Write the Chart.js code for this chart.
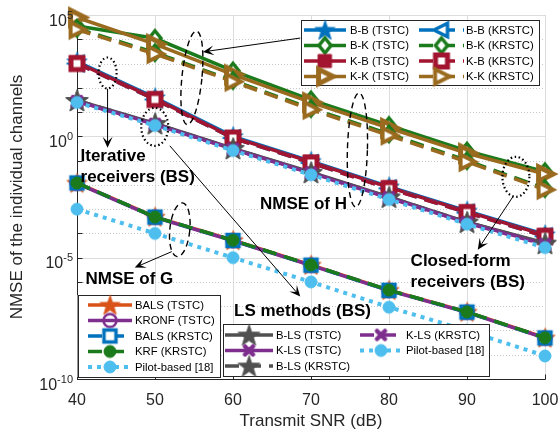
<!DOCTYPE html>
<html lang="en">
<head>
<meta charset="UTF-8">
<title>NMSE vs Transmit SNR</title>
<script src="https://cdn.jsdelivr.net/npm/chart.js"></script>
<style>
  html, body { margin: 0; padding: 0; background: #fff; }
  #wrap { width: 560px; height: 434px; position: relative; }
</style>
</head>
<body>
<div id="wrap"><canvas id="nmse"></canvas></div>
<script>
// ---- data ----
const snr = [40, 50, 60, 70, 80, 90, 100];

// NMSE of G
const balsTstcG  = [1.2e-2, 4.8e-4, 5.2e-5, 5.0e-6, 4.6e-7, 5.8e-8, 5.0e-9];
const kronfTstcG = [1.15e-2, 4.6e-4, 5.0e-5, 4.8e-6, 4.4e-7, 5.6e-8, 4.8e-9];
const balsKrstcG = [1.2e-2, 4.7e-4, 5.1e-5, 4.9e-6, 4.5e-7, 5.7e-8, 4.9e-9];
const krfKrstcG  = [1.2e-2, 4.7e-4, 5.2e-5, 5.0e-6, 4.6e-7, 5.8e-8, 5.0e-9];
const pilotG     = [1.0e-3, 1.0e-4, 1.0e-5, 1.0e-6, 9.1e-8, 1.0e-8, 8.9e-10];

// NMSE of H, iterative / closed-form receivers
const bbTstc  = [1.2e3, 40, 1.0, 9.5e-2, 8.5e-3, 8.5e-4, 9.0e-5];
const bkTstc  = [3.5e4, 1.1e4, 5.0e2, 32, 2.8, 0.25, 3.5e-2];
const kbTstc  = [1.1e3, 36, 0.9, 8.9e-2, 7.9e-3, 7.9e-4, 8.5e-5];
const kkTstc  = [7.9e4, 6.3e3, 3.5e2, 25, 2.2, 0.2, 2.8e-2];
const bbKrstc = [1.0e3, 33, 0.85, 8.0e-2, 7.2e-3, 7.2e-4, 7.6e-5];
const bkKrstc = [2.8e4, 2.8e3, 2.0e2, 14, 1.26, 0.1, 7.1e-3];
const kbKrstc = [1.0e3, 33, 0.85, 8.0e-2, 7.0e-3, 7.2e-4, 7.5e-5];
const kkKrstc = [2.5e4, 2.5e3, 1.8e2, 12.6, 1.1, 8.9e-2, 6.3e-3];

// NMSE of H, LS methods
const blsTstc  = [30, 3.4, 0.32, 3.3e-2, 3.2e-3, 2.9e-4, 4.0e-5];
const klsTstc  = [28, 3.2, 0.30, 3.1e-2, 3.0e-3, 2.8e-4, 3.6e-5];
const blsKrstc = [30, 3.3, 0.31, 3.2e-2, 3.1e-3, 2.9e-4, 3.8e-5];
const klsKrstc = [27, 3.1, 0.29, 3.0e-2, 2.9e-3, 2.7e-4, 3.4e-5];
const pilotH   = [25, 2.8, 0.26, 2.6e-2, 2.5e-3, 2.4e-4, 2.6e-5];

const xTicks = [40, 50, 60, 70, 80, 90, 100];
const yLabelExps = [5, 0, -5, -10];

// ---- styling ----
const FONT = '"Liberation Sans", Arial, Helvetica, sans-serif';
Chart.defaults.font.family = FONT;

const C = {
  blue: '#0072BD', orange: '#D95319', purple: '#7E2F8E', green: '#1B7A1B',
  red: '#A2142F', brown: '#9A6A1F', gray: '#505050', cyan: '#4DBEEE'
};
const SOLID = [], DASH = [14, 8], DOT = [4, 5];

function marker(shape, size, color, face, lw) {
  const dim = Math.ceil(size + lw * 2 + 4);
  const c = document.createElement('canvas');
  c.width = dim; c.height = dim;
  const g = c.getContext('2d');
  const r = size / 2, m = dim / 2;
  g.beginPath();
  if (shape === 'star') {
    for (let i = 0; i < 10; i++) {
      const a = -Math.PI / 2 + i * Math.PI / 5;
      const rr = i % 2 ? r * 0.4 : r;
      g.lineTo(m + rr * Math.cos(a), m + rr * Math.sin(a) + r * 0.08);
    }
    g.closePath();
  } else if (shape === 'square') {
    g.rect(m - r, m - r, size, size);
  } else if (shape === 'diamond') {
    g.moveTo(m, m - r); g.lineTo(m + r * 0.8, m); g.lineTo(m, m + r); g.lineTo(m - r * 0.8, m); g.closePath();
  } else if (shape === 'triRight') {
    g.moveTo(m + r, m); g.lineTo(m - r * 0.8, m - r * 0.9); g.lineTo(m - r * 0.8, m + r * 0.9); g.closePath();
  } else if (shape === 'triLeft') {
    g.moveTo(m - r, m); g.lineTo(m + r * 0.8, m - r * 0.9); g.lineTo(m + r * 0.8, m + r * 0.9); g.closePath();
  } else if (shape === 'circle') {
    g.arc(m, m, r, 0, Math.PI * 2);
  } else if (shape === 'cross') {
    g.moveTo(m - r, m - r); g.lineTo(m + r, m + r); g.moveTo(m + r, m - r); g.lineTo(m - r, m + r);
  }
  if (face) { g.fillStyle = face; g.fill(); }
  g.lineWidth = lw; g.strokeStyle = color; g.lineJoin = 'miter'; g.lineCap = 'round';
  g.stroke();
  return c;
}

function series(label, values, color, dash, mk) {
  return {
    label,
    data: snr.map((x, i) => ({ x, y: values[i] })),
    borderColor: color,
    backgroundColor: color,
    borderWidth: dash === DOT ? 4 : 3.5,
    borderDash: dash,
    borderCapStyle: 'butt',
    pointStyle: mk,
    pointRadius: 8,
    tension: 0,
    fill: false,
    clip: false
  };
}

const datasets = [
  series('BALS (TSTC)', balsTstcG, C.orange, SOLID, marker('star', 21, C.orange, C.orange, 1)),
  series('KRONF (TSTC)', kronfTstcG, C.purple, SOLID, marker('circle', 13, C.purple, null, 2.5)),
  series('BALS (KRSTC)', balsKrstcG, C.blue, DASH, marker('square', 12, C.blue, '#fff', 3.5)),
  series('KRF (KRSTC)', krfKrstcG, C.green, DASH, marker('circle', 12, C.green, C.green, 1)),
  series('Pilot-based [18]', pilotG, C.cyan, DOT, marker('circle', 12, C.cyan, C.cyan, 1)),
  series('B-B (TSTC)', bbTstc, C.blue, SOLID, marker('star', 21, C.blue, C.blue, 1)),
  series('B-K (TSTC)', bkTstc, C.green, SOLID, marker('diamond', 15, C.green, '#fff', 3.5)),
  series('K-B (TSTC)', kbTstc, C.red, SOLID, marker('square', 13, C.red, C.red, 1)),
  series('K-K (TSTC)', kkTstc, C.brown, SOLID, marker('triRight', 16, C.brown, '#fff', 5)),
  series('B-B (KRSTC)', bbKrstc, C.blue, DASH, marker('triLeft', 15, C.blue, '#fff', 3.5)),
  series('B-K (KRSTC)', bkKrstc, C.green, DASH, marker('diamond', 15, C.green, '#fff', 3.5)),
  series('K-B (KRSTC)', kbKrstc, C.red, DASH, marker('square', 12, C.red, '#fff', 5)),
  series('K-K (KRSTC)', kkKrstc, C.brown, DASH, marker('triRight', 16, C.brown, '#fff', 4)),
  series('B-LS (TSTC)', blsTstc, C.gray, SOLID, marker('star', 23, C.gray, C.gray, 1)),
  series('K-LS (TSTC)', klsTstc, C.purple, SOLID, marker('cross', 8, C.purple, null, 4.5)),
  series('B-LS (KRSTC)', blsKrstc, C.gray, DASH, marker('star', 23, C.gray, C.gray, 1)),
  series('K-LS (KRSTC)', klsKrstc, C.purple, DASH, marker('cross', 8, C.purple, null, 4.5)),
  series('Pilot-based [18]', pilotH, C.cyan, DOT, marker('circle', 12, C.cyan, C.cyan, 1))
];
// later series drawn on top, like the original plot
datasets.forEach((d, i) => { d.order = 100 - i; });

// ---- legends and annotations ----
const legends = [
  { box: [301, 20, 238, 65], rows: [30, 45.5, 61, 76.5],
    cols: [{ s0: 304, s1: 346, tx: 350, items: [5, 6, 7, 8] },
           { s0: 419, s1: 464, tx: 466, items: [9, 10, 11, 12] }] },
  { box: [77.5, 295, 141.5, 82], rows: [305, 320.5, 336, 351.5, 367],
    cols: [{ s0: 88, s1: 132, tx: 135, items: [0, 1, 2, 3, 4] }] },
  { box: [223, 324, 266, 52], rows: [335, 350.5, 366],
    cols: [{ s0: 225, s1: 273, tx: 276, items: [13, 14, 15] },
           { s0: 360, s1: 402, tx: 406, items: [16, 17] }] }
];

const noteTexts = [
  { text: 'Iterative', x: 40.45, e: -0.84 },
  { text: 'receivers (BS)', x: 40.45, e: -1.69 },
  { text: 'NMSE of H', x: 63.47, e: -2.82 },
  { text: 'Closed-form', x: 82.77, e: -5.16 },
  { text: 'receivers (BS)', x: 82.77, e: -6.03 },
  { text: 'NMSE of G', x: 41.09, e: -5.91 },
  { text: 'LS methods (BS)', x: 60.13, e: -7.22 }
];
const rings = [
  { x: 54.73, e: 2.41, rx: 10, ry: 47, rot: 0.1, kind: 'dash' },
  { x: 43.92, e: 2.61, rx: 9, ry: 15.5, rot: 0, kind: 'dot' },
  { x: 49.97, e: 0.39, rx: 13.5, ry: 19, rot: 0, kind: 'dot' },
  { x: 75.95, e: -0.56, rx: 10, ry: 57, rot: 0.03, kind: 'dash' },
  { x: 96.27, e: -1.67, rx: 13.5, ry: 20, rot: 0, kind: 'dot' },
  { x: 53.18, e: -3.85, rx: 10, ry: 27, rot: 0.1, kind: 'dash' }
];
const arrows = [
  { from: [68.62, 4.05], to: [56.14, 3.48] },
  { from: [43.92, 1.95], to: [43.92, -0.47] },
  { from: [51.9, -0.39], to: [68.62, -6.6] },
  { from: [95.88, -2.49], to: [91.38, -4.67] },
  { from: [52.15, -4.75], to: [47.4, -5.41] }
];

function hline(ctx, x0, y0, x1, y1) {
  ctx.beginPath(); ctx.moveTo(x0, y0); ctx.lineTo(x1, y1); ctx.stroke();
}

const decor = {
  id: 'decor',
  beforeDatasetsDraw(chart) {
    const { ctx, chartArea: a, scales: { x, y } } = chart;
    ctx.save();
    ctx.lineWidth = 1;
    ctx.strokeStyle = '#dcdcdc';
    xTicks.forEach(v => {
      const px = Math.round(x.getPixelForValue(v)) + 0.5;
      hline(ctx, px, a.top, px, a.bottom);
    });
    for (let e = -10; e <= 5; e++) {
      const py = Math.round(y.getPixelForValue(Math.pow(10, e))) + 0.5;
      ctx.setLineDash(e % 5 === 0 ? [] : [1, 2]);
      ctx.strokeStyle = e % 5 === 0 ? '#dcdcdc' : '#c8c8c8';
      hline(ctx, a.left, py, a.right, py);
    }
    ctx.setLineDash([]);
    ctx.strokeStyle = '#262626';
    const L = a.left + 0.5, B = a.bottom + 0.5;
    hline(ctx, L, a.top, L, B);
    hline(ctx, L, B, a.right + 0.5, B);
    for (let e = -10; e <= 5; e++) {
      const py = Math.round(y.getPixelForValue(Math.pow(10, e))) + 0.5;
      hline(ctx, L, py, L + 5, py);
    }
    xTicks.forEach(v => {
      const px = Math.round(x.getPixelForValue(v)) + 0.5;
      hline(ctx, px, B, px, B - 5);
    });
    ctx.restore();
  },
  afterDatasetsDraw(chart) {
    const { ctx, scales: { x, y } } = chart;
    const P = (sx, e) => [x.getPixelForValue(sx), y.getPixelForValue(Math.pow(10, e))];
    ctx.save();

    // ellipses
    rings.forEach(r => {
      const [cx, cy] = P(r.x, r.e);
      ctx.beginPath();
      ctx.ellipse(cx, cy, r.rx, r.ry, r.rot, 0, Math.PI * 2);
      ctx.strokeStyle = '#000';
      if (r.kind === 'dot') { ctx.lineWidth = 2.2; ctx.setLineDash([1.5, 2.6]); ctx.lineCap = 'butt'; }
      else { ctx.lineWidth = 1.4; ctx.setLineDash([6, 4]); ctx.lineCap = 'butt'; }
      ctx.stroke();
    });
    ctx.setLineDash([]);

    // arrows
    arrows.forEach(ar => {
      const [x0, y0] = P(ar.from[0], ar.from[1]);
      const [x1, y1] = P(ar.to[0], ar.to[1]);
      const d = Math.hypot(x1 - x0, y1 - y0), ux = (x1 - x0) / d, uy = (y1 - y0) / d;
      const nx = -uy, ny = ux, Lh = 11, W = 5;
      ctx.strokeStyle = '#000'; ctx.fillStyle = '#000'; ctx.lineWidth = 1;
      hline(ctx, x0, y0, x1 - ux * 5, y1 - uy * 5);
      ctx.beginPath();
      ctx.moveTo(x1, y1);
      ctx.lineTo(x1 - ux * Lh + nx * W, y1 - uy * Lh + ny * W);
      ctx.lineTo(x1 - ux * Lh * 0.55, y1 - uy * Lh * 0.55);
      ctx.lineTo(x1 - ux * Lh - nx * W, y1 - uy * Lh - ny * W);
      ctx.closePath();
      ctx.fill();
    });

    // bold labels
    ctx.font = 'bold 17px ' + FONT;
    ctx.fillStyle = '#000';
    ctx.textAlign = 'left'; ctx.textBaseline = 'middle';
    noteTexts.forEach(t => {
      const [tx, ty] = P(t.x, t.e);
      ctx.fillText(t.text, tx, ty);
    });

    // legends
    legends.forEach(lg => {
      const [bx, by, bw, bh] = lg.box;
      ctx.fillStyle = '#fff';
      ctx.fillRect(bx, by, bw, bh);
      ctx.strokeStyle = '#262626'; ctx.lineWidth = 1;
      ctx.strokeRect(Math.round(bx) + 0.5, Math.round(by) + 0.5, Math.round(bw), Math.round(bh));
      lg.cols.forEach(col => {
        col.items.forEach((di, k) => {
          const ds = datasets[di];
          const ry = lg.rows[k];
          ctx.save();
          ctx.strokeStyle = ds.borderColor;
          ctx.lineWidth = ds.borderWidth;
          ctx.lineCap = 'butt';
          ctx.setLineDash(ds.borderDash);
          hline(ctx, col.s0, ry, col.s1, ry);
          ctx.restore();
          const mk = ds.pointStyle;
          const mx = (col.s0 + col.s1) / 2;
          ctx.drawImage(mk, mx - mk.width / 2, ry - mk.height / 2);
          ctx.font = '11.3px ' + FONT;
          ctx.fillStyle = '#000';
          ctx.textAlign = 'left'; ctx.textBaseline = 'middle';
          ctx.fillText(ds.label, col.tx, ry + 0.5);
        });
      });
    });
    ctx.restore();
  },
  afterDraw(chart) {
    const { ctx, chartArea: a, scales: { y } } = chart;
    ctx.save();
    ctx.fillStyle = '#262626';
    ctx.textAlign = 'right'; ctx.textBaseline = 'alphabetic';
    const right = a.left - 4;
    yLabelExps.forEach(e => {
      const py = y.getPixelForValue(Math.pow(10, e));
      const sup = String(e);
      ctx.font = '11px ' + FONT;
      const w = ctx.measureText(sup).width;
      ctx.fillText(sup, right, py + 3.5);
      ctx.font = '16px ' + FONT;
      ctx.fillText('10', right - w, py + 10.5);
    });
    ctx.restore();
  }
};

new Chart(document.getElementById('nmse').getContext('2d'), {
  type: 'line',
  data: { datasets },
  options: {
    responsive: true,
    maintainAspectRatio: false,
    animation: false,
    devicePixelRatio: 1,
    layout: { padding: { top: 15, right: 15, left: 0, bottom: 0 } },
    plugins: { legend: { display: false }, tooltip: { enabled: false } },
    scales: {
      x: {
        type: 'linear', min: 40, max: 100,
        grid: { display: false, drawTicks: false },
        border: { display: false },
        ticks: { stepSize: 10, maxRotation: 0, padding: 12, color: '#262626', font: { size: 16 } },
        title: { display: true, text: 'Transmit SNR (dB)', color: '#262626', font: { size: 17 }, padding: { top: 0, bottom: 2 } },
        afterFit(s) { s.height = 55; s.paddingLeft = 0; s.paddingRight = 0; }
      },
      y: {
        type: 'logarithmic', min: 1e-10, max: 1e5,
        grid: { display: false, drawTicks: false },
        border: { display: false },
        ticks: { display: false },
        title: { display: true, text: 'NMSE of the individual channels', color: '#262626', font: { size: 17 }, padding: { top: 7 } },
        afterFit(s) { s.width = 77; s.paddingTop = 0; s.paddingBottom = 0; }
      }
    }
  },
  plugins: [decor]
});
</script>
</body>
</html>
